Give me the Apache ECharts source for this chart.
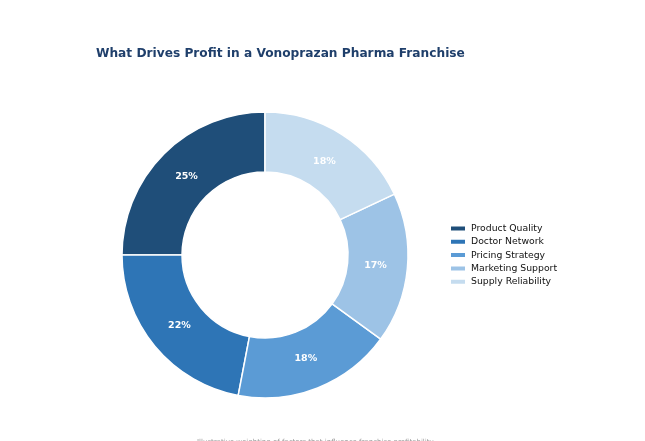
<!DOCTYPE html>
<html lang="en">
<head>
    <meta charset="UTF-8">
    <title>What Drives Profit</title>
    <script src="https://cdn.jsdelivr.net/npm/echarts@6/dist/echarts.min.js"></script>
    <style>
        html, body { margin: 0; padding: 0; background: #fff; }
    </style>
</head>
<body>
<div id="main" style="width: 645px;height:441px;"></div>
<script type="text/javascript">
    // data
    var factors = ["Product Quality", "Doctor Network", "Pricing Strategy", "Marketing Support", "Supply Reliability"];
    var shares = [25, 22, 18, 17, 18];
    var colors = ["#1f4e79", "#2e75b6", "#5b9bd5", "#9dc3e6", "#c5dcef"];

    var myChart = echarts.init(document.getElementById("main"));

    var pieData = factors.map(function (name, i) {
        return {name: name, value: shares[i], itemStyle: {color: colors[i]}};
    });

    var option = {
        backgroundColor: "#fff",
        animation: false,
        title: [
            {
                text: "What Drives Profit in a Vonoprazan Pharma Franchise",
                left: 91,
                top: 43,
                textStyle: {
                    fontFamily: "DejaVu Sans",
                    fontSize: 12.2,
                    fontWeight: "bold",
                    color: "#1f3f6b"
                }
            },
            {
                text: "Illustrative weighting of factors that influence franchise profitability",
                left: 192,
                top: 434,
                textStyle: {
                    fontFamily: "DejaVu Sans",
                    fontSize: 7,
                    fontWeight: "normal",
                    color: "#999"
                }
            }
        ],
        legend: {
            orient: "vertical",
            left: 444,
            top: 219,
            itemWidth: 16,
            itemHeight: 6,
            itemGap: 4.3,
            icon: "rect",
            textStyle: {
                fontFamily: "DejaVu Sans",
                fontSize: 9.3,
                color: "#111"
            },
            data: factors
        },
        series: [
            {
                type: "pie",
                center: [265, 255],
                radius: [83, 143],
                startAngle: 90,
                clockwise: false,
                itemStyle: {
                    borderColor: "#fff",
                    borderWidth: 1.5
                },
                label: {show: false},
                labelLine: {show: false},
                emphasis: {disabled: true},
                data: pieData
            },
            {
                // label ring, slightly inside the mid radius like the reference
                type: "pie",
                center: [265, 255],
                radius: [78, 138],
                startAngle: 90,
                clockwise: false,
                silent: true,
                itemStyle: {color: "rgba(0,0,0,0)"},
                label: {
                    position: "inside",
                    formatter: "{c}%",
                    color: "#fff",
                    fontFamily: "DejaVu Sans",
                    fontWeight: "bold",
                    fontSize: 9.5
                },
                labelLine: {show: false},
                emphasis: {disabled: true},
                data: factors.map(function (name, i) {
                    return {name: name, value: shares[i]};
                })
            }
        ]
    };

    myChart.setOption(option);
</script>
</body>
</html>
